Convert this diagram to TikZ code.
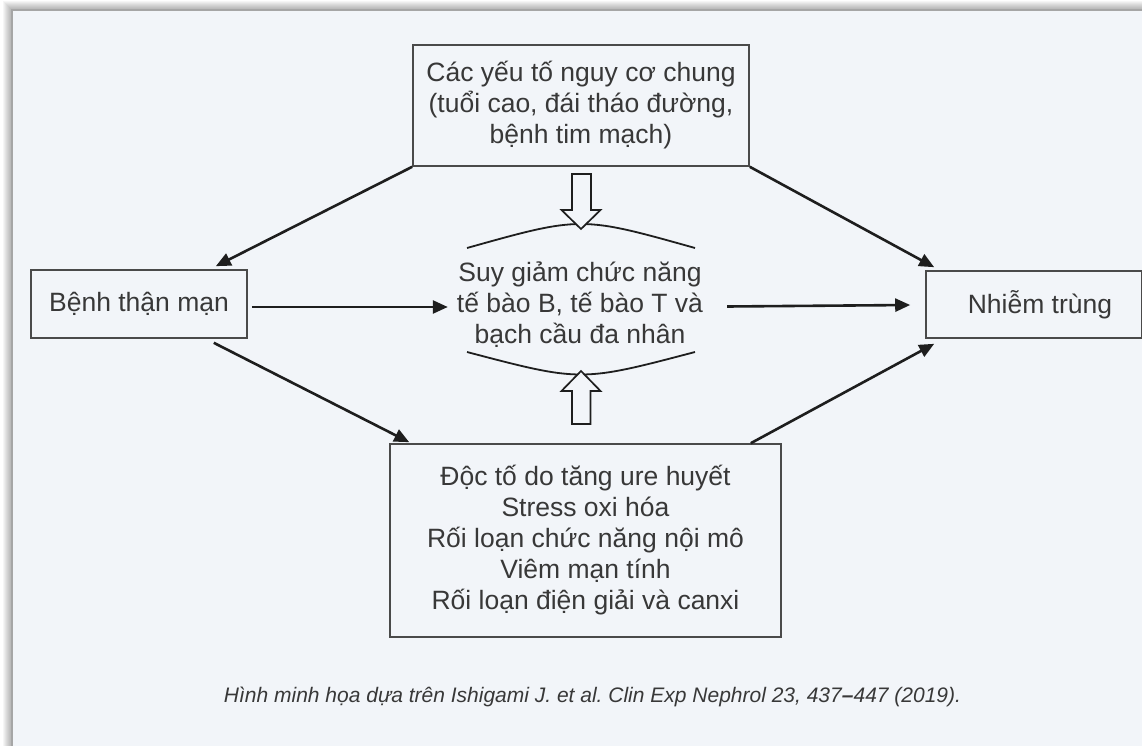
\documentclass[tikz,border=0pt]{standalone}
\usepackage{fontspec}
\setmainfont{Liberation Sans}
\usetikzlibrary{arrows.meta}
\definecolor{panel}{HTML}{F2F5F9}
\definecolor{txt}{HTML}{383838}
\definecolor{edge}{HTML}{4A4A4A}
\definecolor{ink}{HTML}{1E1E1E}
\frenchspacing
\begin{document}
\begin{tikzpicture}[x=1pt,y=-1pt,
  box/.style={draw=edge,line width=1.6pt,text=txt,align=center,
    font=\fontsize{26.5}{31}\selectfont,inner sep=0pt},
  conn/.style={-{Triangle[length=15pt,width=13pt]},line width=2.6pt,draw=ink},
  hollow/.style={draw=ink,line width=1.7pt,fill=panel,line join=miter},
  arcline/.style={draw=ink,line width=1.8pt},
  lbl/.style={text=txt,align=center,font=\fontsize{26.5}{31}\selectfont,inner sep=0pt}]
% background and panel with soft shadow
\useasboundingbox (0,0) rectangle (1142,746);
\fill[white] (0,0) rectangle (1142,746);
\foreach \i in {9,8,...,1}{
  \fill[black,opacity=0.035] (12-\i,10-\i) rectangle (1142,746);
}
\fill[panel] (12,10) rectangle (1142,746);
\draw[black!35,line width=1.2pt] (12,746) -- (12,10) -- (1142,10);
% boxes
\node[box,minimum width=336pt,minimum height=121pt] (top) at (581,105.5)
  {Các yếu tố nguy cơ chung\\(tuổi cao, đái tháo đường,\\bệnh tim mạch)};
\node[box,minimum width=216pt,minimum height=68pt] (left) at (139,304)
  {Bệnh thận mạn};
\node[box,minimum width=216pt,minimum height=67pt] (right) at (1034,304.5) {};
\node[lbl] (rtext) at (1040,304.5) {Nhiễm trùng};
\node[box,minimum width=391pt,minimum height=193pt] (bottom) at (585.5,540.5)
  {Độc tố do tăng ure huyết\\Stress oxi hóa\\Rối loạn chức năng nội mô\\Viêm mạn tính\\Rối loạn điện giải và canxi};
\node[lbl,minimum width=264pt] (mid) at (580,305)
  {Suy giảm chức năng\\tế bào B, tế bào T và\\bạch cầu đa nhân};
% lens arcs around the middle text
\draw[arcline] (467,248) .. controls (581,216) .. (695,248);
\draw[arcline] (467,352) .. controls (581,382) .. (695,352);
% hollow arrows
\draw[hollow] (572,174) -- (591,174) -- (591,210) -- (600.5,210) -- (581,229)
  -- (561.5,210) -- (572,210) -- cycle;
\draw[hollow] (572,424) -- (590.5,424) -- (590.5,391) -- (600.5,391) -- (581,371)
  -- (561.5,391) -- (572,391) -- cycle;
% connectors
\draw[conn] (top.south west) -- ([xshift=-32pt,yshift=3pt]left.north east);
\draw[conn] (top.south east) -- ([xshift=9pt,yshift=3pt]right.north west);
\draw[conn] ([xshift=4pt,yshift=-3pt]left.east) -- ([yshift=-2pt]mid.west);
\draw[conn] ([xshift=15pt,yshift=-1.5pt]mid.east) -- ([xshift=-15pt,yshift=-0.5pt]right.west);
\draw[conn] ([xshift=-34pt,yshift=-4pt]left.south east) -- ([xshift=20pt,yshift=1pt]bottom.north west);
\draw[conn] ([xshift=-31pt]bottom.north east) -- ([xshift=9pt,yshift=-5pt]right.south west);
% caption
\node[text=txt,font=\fontsize{21}{25}\selectfont\itshape,inner sep=0pt] (cap) at (592.5,697)
  {Hình minh họa dựa trên Ishigami J. et al. Clin Exp Nephrol 23, 437\textbf{–}447 (2019).};
\end{tikzpicture}
\end{document}
